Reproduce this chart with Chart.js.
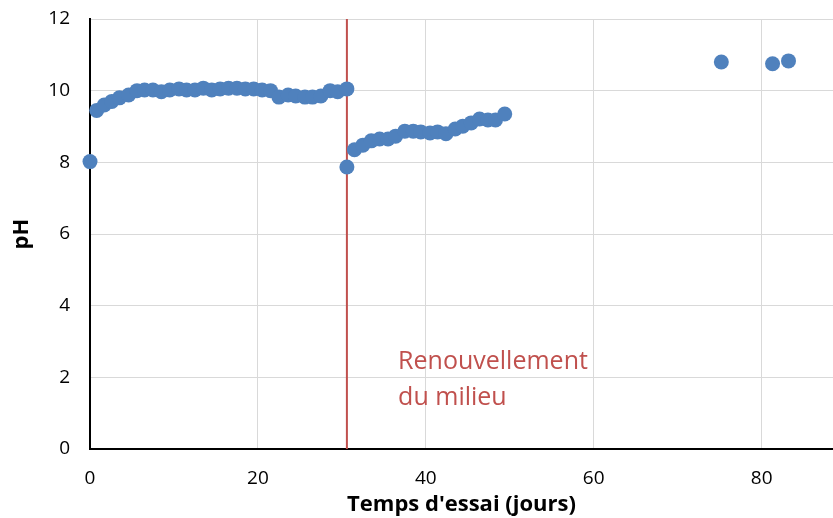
<!DOCTYPE html>
<html><head><meta charset="utf-8">
<script src="https://cdn.jsdelivr.net/npm/chart.js@4/dist/chart.umd.min.js"></script>
<style>html,body{margin:0;padding:0;background:#fff;overflow:hidden;}</style>
</head><body>
<canvas id="c" width="833" height="518"></canvas>
<script>
const days = [0, 0.8, 1.7, 2.6, 3.5, 4.6, 5.6, 6.5, 7.5, 8.5, 9.5, 10.6, 11.5, 12.5, 13.5, 14.5, 15.5, 16.5, 17.5, 18.5, 19.5, 20.5, 21.5, 22.5, 23.6, 24.5, 25.6, 26.5, 27.5, 28.6, 29.5, 30.6,
  30.6, 31.5, 32.5, 33.5, 34.5, 35.5, 36.4, 37.5, 38.5, 39.4, 40.5, 41.4, 42.4, 43.5, 44.4, 45.4, 46.4, 47.4, 48.3, 49.4,
  75.2, 81.3, 83.2];
const ph = [8.02, 9.45, 9.6, 9.7, 9.8, 9.88, 10.0, 10.02, 10.02, 9.97, 10.02, 10.05, 10.02, 10.02, 10.07, 10.02, 10.05, 10.07, 10.07, 10.05, 10.05, 10.02, 10.0, 9.82, 9.88, 9.85, 9.82, 9.82, 9.85, 10.0, 9.97, 10.05,
  7.87, 8.35, 8.48, 8.6, 8.65, 8.65, 8.73, 8.87, 8.87, 8.85, 8.82, 8.85, 8.8, 8.93, 9.01, 9.1, 9.21, 9.18, 9.18, 9.35,
  10.8, 10.75, 10.83];
const xTicks = [0, 20, 40, 60, 80];
const yTicks = [0, 2, 4, 6, 8, 10, 12];
const renewalDay = 30.6;
const annotationLines = ['Renouvellement', 'du milieu'];

const points = days.map((d, i) => ({x: d, y: ph[i]}));
const RED = '#C0504D';
const FONT = '"Open Sans", "Liberation Sans", sans-serif';

const renewalPlugin = {
  id: 'renewal',
  beforeDatasetsDraw(chart) {
    const {ctx, scales: {x, y}} = chart;
    const px = x.getPixelForValue(renewalDay);
    ctx.save();
    ctx.strokeStyle = RED;
    ctx.lineWidth = 2;
    ctx.beginPath();
    ctx.moveTo(px, y.getPixelForValue(12));
    ctx.lineTo(px, y.getPixelForValue(0));
    ctx.stroke();
    ctx.restore();
  },
  afterDatasetsDraw(chart) {
    const {ctx, scales: {x, y}} = chart;
    ctx.save();
    ctx.fillStyle = RED;
    ctx.font = '25px ' + FONT;
    ctx.textAlign = 'left';
    ctx.textBaseline = 'middle';
    const tx = x.getPixelForValue(36.7);
    ctx.fillText(annotationLines[0], tx, y.getPixelForValue(2.43));
    ctx.fillText(annotationLines[1], tx, y.getPixelForValue(1.42));
    ctx.restore();
  }
};

new Chart(document.getElementById('c'), {
  type: 'scatter',
  data: {
    datasets: [{
      data: points,
      backgroundColor: '#4F81BD',
      borderColor: '#4F81BD',
      borderWidth: 0,
      pointRadius: 7.5,
      pointHoverRadius: 7.5,
      clip: false
    }]
  },
  options: {
    responsive: false,
    animation: false,
    layout: {autoPadding: false, padding: {left: 0, top: 19, right: 0, bottom: 0}},
    plugins: {legend: {display: false}, tooltip: {enabled: false}},
    scales: {
      x: {
        type: 'linear', min: 0, max: 88.5,
        afterBuildTicks: s => { s.ticks = xTicks.map(v => ({value: v})); },
        afterFit: s => { s.height = 69; s.paddingLeft = 0; s.paddingRight = 0; },
        grid: {color: '#D9D9D9', lineWidth: 1, drawTicks: false},
        border: {color: '#000', width: 2},
        ticks: {color: '#000', font: {family: FONT, size: 19}, padding: 18, maxRotation: 0},
        title: {display: true, text: "Temps d'essai (jours)", color: '#000',
          font: {family: FONT, size: 22, weight: 'bold'}, padding: {top: 0, bottom: 0}}
      },
      y: {
        min: 0, max: 12,
        afterBuildTicks: s => { s.ticks = yTicks.map(v => ({value: v})); },
        afterFit: s => { s.width = 90; s.paddingTop = 0; s.paddingBottom = 0; },
        grid: {color: '#D9D9D9', lineWidth: 1, drawTicks: false},
        border: {color: '#000', width: 2},
        ticks: {color: '#000', font: {family: FONT, size: 19}, padding: 20},
        title: {display: true, text: 'pH', color: '#000',
          font: {family: FONT, size: 22, weight: 'bold'}, padding: {top: 9, bottom: 0}}
      }
    }
  },
  plugins: [renewalPlugin]
});
</script>
</body></html>
